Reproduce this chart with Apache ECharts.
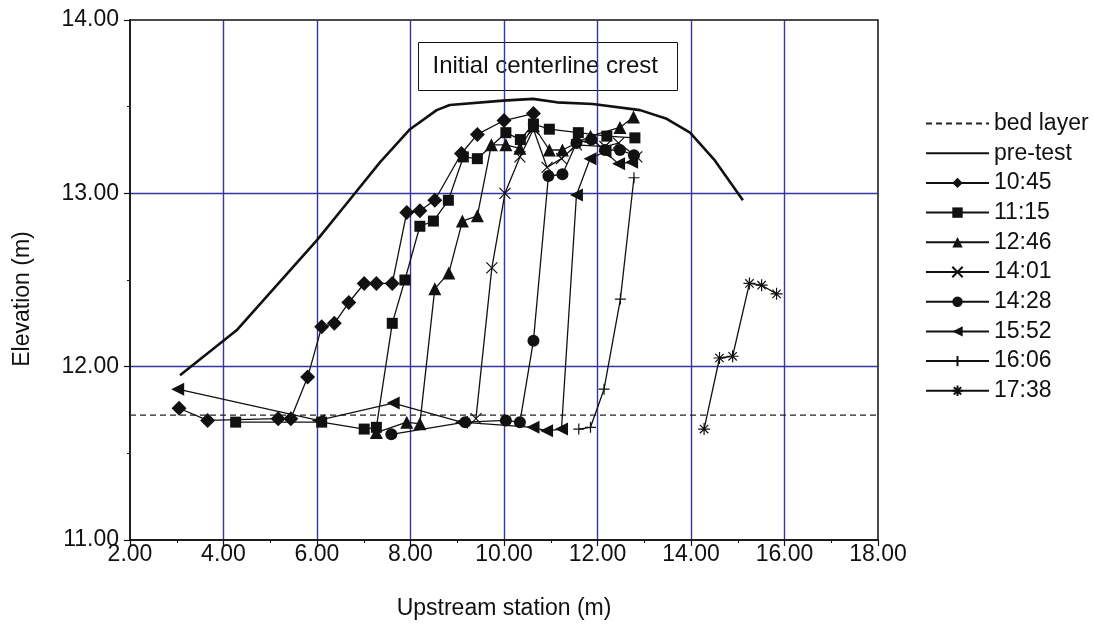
<!DOCTYPE html>
<html>
<head>
<meta charset="utf-8">
<script src="https://cdn.jsdelivr.net/npm/echarts@6/dist/echarts.min.js"></script>
<style>
  html, body { margin: 0; padding: 0; background: #fff; }
  #chart { width: 1095px; height: 628px; }
</style>
</head>
<body>
<div id="chart"></div>
<script>
// Crest profiles along the upstream station, elevations in metres
const xTicks = [2, 4, 6, 8, 10, 12, 14, 16, 18];
const yTicks = [11, 12, 13, 14];

const bedLayer = [[2, 11.72], [18, 11.72]];
const preTest = [[3.07, 11.95], [4.28, 12.21], [6.0, 12.73], [6.6, 12.93], [7.35, 13.18], [7.99, 13.37],
  [8.56, 13.48], [8.84, 13.51], [9.98, 13.535], [10.62, 13.545], [11.13, 13.525], [11.9, 13.515],
  [12.91, 13.48], [13.48, 13.43], [13.98, 13.35], [14.51, 13.19], [15.11, 12.96]];

const t1045 = [[3.05, 11.76], [3.66, 11.69], [5.17, 11.70], [5.44, 11.70], [5.80, 11.94], [6.10, 12.23],
  [6.37, 12.25], [6.68, 12.37], [7.01, 12.48], [7.27, 12.48], [7.61, 12.48], [7.92, 12.89], [8.20, 12.90],
  [8.52, 12.96], [9.09, 13.23], [9.43, 13.34], [10.0, 13.42], [10.63, 13.46]];
const t1115 = [[4.26, 11.68], [6.10, 11.68], [7.01, 11.64], [7.27, 11.65], [7.61, 12.25], [7.88, 12.50],
  [8.20, 12.81], [8.49, 12.84], [8.81, 12.96], [9.13, 13.21], [9.43, 13.20], [10.04, 13.35], [10.35, 13.31],
  [10.63, 13.40], [10.97, 13.37], [11.59, 13.35], [12.20, 13.33], [12.80, 13.32]];
const t1246 = [[7.27, 11.62], [7.92, 11.68], [8.20, 11.67], [8.52, 12.45], [8.82, 12.54], [9.11, 12.84],
  [9.43, 12.87], [9.73, 13.28], [10.04, 13.28], [10.34, 13.26], [10.63, 13.39], [10.97, 13.25],
  [11.25, 13.25], [11.85, 13.33], [12.48, 13.38], [12.77, 13.44]];
const t1401 = [[9.40, 11.70], [9.74, 12.57], [10.02, 13.00], [10.34, 13.21], [10.63, 13.37], [10.92, 13.15],
  [11.23, 13.20], [11.55, 13.28], [12.16, 13.27], [12.45, 13.29], [12.84, 13.21]];
const t1428 = [[7.59, 11.61], [9.17, 11.68], [10.04, 11.69], [10.34, 11.68], [10.63, 12.15], [10.95, 13.10],
  [11.25, 13.11], [11.55, 13.29], [11.87, 13.31], [12.16, 13.25], [12.48, 13.25], [12.78, 13.22]];
const t1552 = [[3.02, 11.87], [6.03, 11.69], [7.63, 11.79], [9.09, 11.68], [10.62, 11.65], [10.91, 11.63],
  [11.23, 11.64], [11.55, 12.99], [11.84, 13.20], [12.16, 13.24], [12.45, 13.17], [12.73, 13.18]];
const t1606 = [[11.60, 11.64], [11.85, 11.65], [12.14, 11.87], [12.49, 12.39], [12.78, 13.09]];
const t1738 = [[14.28, 11.64], [14.61, 12.05], [14.89, 12.06], [15.25, 12.48], [15.51, 12.47], [15.83, 12.42]];

const INK = '#111';
const GRIDBLUE = '#3434a4';
const FONT = '"Liberation Sans", Arial, sans-serif';
const CLEAR = 'rgba(0,0,0,0)';
const FS = 23;

const crossPath = 'path://M0,0L10,10M10,0L0,10';
const plusPath = 'path://M5,0L5,10M0,5L10,5';
const starPath = 'path://M5,0L5,10M0,5L10,5M1.5,1.5L8.5,8.5M8.5,1.5L1.5,8.5';

function run(name, data, symbol, size, opts) {
  opts = opts || {};
  return {
    name: name,
    type: 'line',
    data: data,
    symbol: symbol,
    symbolSize: size,
    symbolRotate: opts.rotate || 0,
    showAllSymbol: true,
    z: 3,
    lineStyle: { color: INK, width: 1.3 },
    itemStyle: opts.stroked
      ? { color: CLEAR, borderColor: INK, borderWidth: 1.2 }
      : { color: INK, borderWidth: 0 },
    emphasis: { disabled: true }
  };
}

const chart = echarts.init(document.getElementById('chart'), null, { renderer: 'canvas' });

const axisCommon = {
  type: 'value',
  nameLocation: 'middle',
  nameTextStyle: { fontSize: FS, color: INK, fontFamily: FONT },
  axisLine: { show: true, lineStyle: { color: INK, width: 1.5 } },
  axisTick: { show: true, inside: false, length: 6, lineStyle: { color: INK, width: 1.2 } },
  minorTick: { show: true, splitNumber: 2, length: 3, lineStyle: { color: INK, width: 1 } },
  splitLine: { show: true, showMinLine: false, showMaxLine: false, lineStyle: { color: GRIDBLUE, width: 1.4 } }
};

chart.setOption({
  backgroundColor: '#fff',
  animation: false,
  textStyle: { fontFamily: FONT },
  grid: { left: 130, right: 217, top: 20, bottom: 88, show: true, borderColor: INK, borderWidth: 1.5, backgroundColor: 'transparent' },
  legend: {
    orient: 'vertical',
    left: 925,
    top: 112,
    padding: 0,
    itemWidth: 63,
    itemHeight: 13,
    itemGap: 6.7,
    textStyle: { fontSize: FS, lineHeight: 23, color: INK, fontFamily: FONT, padding: [0, 0, 0, 0] },
    data: ['bed layer', 'pre-test', '10:45', '11:15', '12:46', '14:01', '14:28', '15:52', '16:06', '17:38']
  },
  xAxis: Object.assign({}, axisCommon, {
    min: xTicks[0],
    max: xTicks[xTicks.length - 1],
    interval: 2,
    name: 'Upstream station (m)',
    nameGap: 57,
    axisLabel: { fontSize: FS, color: INK, margin: 3, formatter: v => v.toFixed(2) }
  }),
  yAxis: Object.assign({}, axisCommon, {
    min: yTicks[0],
    max: yTicks[yTicks.length - 1],
    interval: 1,
    axisLabel: { fontSize: FS, color: INK, margin: 11, formatter: v => v.toFixed(2) }
  }),
  graphic: [
    {
      type: 'text',
      x: 23,
      y: 299,
      rotation: Math.PI / 2,
      style: { text: 'Elevation (m)', fill: INK, font: FS + 'px ' + FONT, align: 'center', verticalAlign: 'middle' }
    },
    {
      type: 'group',
      left: 418,
      top: 42,
      z: 10,
      children: [
        { type: 'rect', shape: { x: 0, y: 0, width: 259, height: 48 }, style: { fill: '#fff', stroke: INK, lineWidth: 1 } },
        { type: 'text', x: 14, y: 24, style: { text: 'Initial centerline crest', fill: INK, font: '24px ' + FONT, align: 'left', verticalAlign: 'middle' } }
      ]
    }
  ],
  series: [
    {
      name: 'bed layer', type: 'line', data: bedLayer, symbol: 'none', z: 2,
      itemStyle: { color: CLEAR },
      lineStyle: { color: '#222', width: 1.3, type: [6, 4] }, emphasis: { disabled: true }
    },
    {
      name: 'pre-test', type: 'line', data: preTest, symbol: 'none', z: 2,
      itemStyle: { color: CLEAR },
      lineStyle: { color: INK, width: 2.6 }, emphasis: { disabled: true }
    },
    run('10:45', t1045, 'diamond', 15),
    run('11:15', t1115, 'rect', 11),
    run('12:46', t1246, 'triangle', 13),
    run('14:01', t1401, crossPath, 11, { stroked: true }),
    run('14:28', t1428, 'circle', 12),
    run('15:52', t1552, 'triangle', 13, { rotate: 90 }),
    run('16:06', t1606, plusPath, 11, { stroked: true }),
    run('17:38', t1738, starPath, 12, { stroked: true })
  ]
});
</script>
</body>
</html>
